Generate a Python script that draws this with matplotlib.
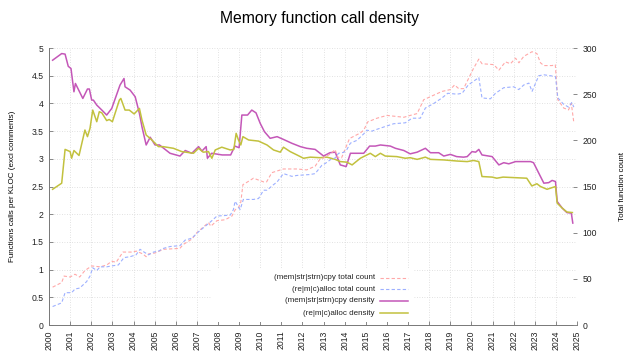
import matplotlib
matplotlib.use("Agg")
import matplotlib.pyplot as plt
from matplotlib.patches import Rectangle

plt.rcParams['font.family'] = ['Liberation Sans', 'DejaVu Sans']

# (mem|str|strn)cpy density (calls per KLOC)
mem_dens_x = [2000.17, 2000.6, 2000.76, 2000.91, 2001.04, 2001.18, 2001.25, 2001.6, 2001.82, 2001.91,
              2002.02, 2002.1, 2002.26, 2002.5, 2002.73, 2002.97, 2003.36, 2003.55, 2003.6, 2003.84,
              2004.08, 2004.28, 2004.4, 2004.6, 2004.79, 2005.02, 2005.23, 2005.73, 2006.2, 2006.45,
              2006.76, 2007.08, 2007.24, 2007.44, 2007.5, 2007.7, 2008.2, 2008.6, 2008.8, 2009.0,
              2009.13, 2009.4, 2009.6, 2009.8, 2010.0, 2010.2, 2010.47, 2010.8, 2011.1, 2011.5,
              2011.9, 2012.2, 2012.6, 2013.0, 2013.3, 2013.55, 2013.79, 2014.07, 2014.27, 2014.9,
              2015.18, 2015.45, 2015.69, 2016.16, 2016.4, 2016.8, 2017.1, 2017.43, 2017.82, 2018.06,
              2018.45, 2018.69, 2019.0, 2019.3, 2019.63, 2019.8, 2020.03, 2020.2, 2020.35, 2020.5,
              2020.98, 2021.3, 2021.53, 2021.77, 2022.09, 2022.8, 2022.94, 2023.27, 2023.43, 2023.66,
              2023.82, 2023.98, 2024.06, 2024.3, 2024.52, 2024.73, 2024.8]
mem_dens = [4.78, 4.90, 4.89, 4.67, 4.63, 4.21, 4.36, 4.09, 4.26, 4.26,
            4.06, 4.06, 3.97, 3.88, 3.79, 3.91, 4.33, 4.45, 4.30, 4.24,
            4.12, 3.82, 3.58, 3.25, 3.39, 3.25, 3.25, 3.10, 3.05, 3.15,
            3.10, 3.22, 3.14, 3.22, 3.01, 3.10, 3.07, 3.07, 3.23, 3.20,
            3.79, 3.79, 3.88, 3.83, 3.64, 3.49, 3.37, 3.40, 3.35, 3.28,
            3.22, 3.19, 3.17, 3.05, 3.11, 3.12, 2.89, 2.86, 3.10, 3.10,
            3.23, 3.23, 3.25, 3.23, 3.19, 3.15, 3.09, 3.12, 3.19, 3.11,
            3.11, 3.05, 3.08, 3.04, 3.03, 3.04, 3.13, 3.12, 3.17, 3.07,
            3.04, 2.89, 2.93, 2.91, 2.95, 2.95, 2.93, 2.68, 2.56, 2.57,
            2.61, 2.59, 2.23, 2.11, 2.03, 2.02, 1.84]

# (re|m|c)alloc density (calls per KLOC)
alloc_dens_x = [2000.17, 2000.6, 2000.76, 2001.0, 2001.07, 2001.18, 2001.42, 2001.7, 2001.82, 2001.94,
                2002.07, 2002.26, 2002.38, 2002.5, 2002.73, 2002.85, 2003.0, 2003.33, 2003.4, 2003.6,
                2003.8, 2004.03, 2004.28, 2004.4, 2004.6, 2004.87, 2005.18, 2005.4, 2005.89, 2006.29,
                2006.84, 2007.08, 2007.3, 2007.55, 2007.71, 2007.87, 2008.18, 2008.58, 2008.75, 2008.86,
                2008.97, 2009.08, 2009.18, 2009.45, 2009.92, 2010.32, 2010.63, 2010.95, 2011.1, 2011.42,
                2011.74, 2012.05, 2012.37, 2012.84, 2013.16, 2013.55, 2013.79, 2014.1, 2014.35, 2014.74,
                2015.21, 2015.45, 2015.69, 2015.92, 2016.47, 2016.87, 2017.1, 2017.43, 2017.82, 2018.06,
                2018.69, 2019.32, 2019.8, 2020.1, 2020.35, 2020.5, 2020.98, 2021.2, 2021.5, 2022.62,
                2022.86, 2023.1, 2023.27, 2023.58, 2023.98, 2024.06, 2024.3, 2024.52, 2024.78]
alloc_dens = [2.45, 2.56, 3.17, 3.13, 3.01, 3.15, 3.06, 3.52, 3.40, 3.55,
              3.88, 3.67, 3.85, 3.83, 3.69, 3.71, 3.67, 4.06, 4.09, 3.88,
              3.88, 3.81, 3.91, 3.70, 3.43, 3.34, 3.22, 3.22, 3.19, 3.13,
              3.10, 3.19, 3.12, 3.13, 3.01, 3.16, 3.21, 3.16, 3.17, 3.46,
              3.34, 3.25, 3.40, 3.34, 3.32, 3.25, 3.16, 3.12, 3.21, 3.13,
              3.07, 3.01, 3.03, 3.02, 3.03, 2.99, 2.95, 2.94, 2.89, 3.01,
              3.10, 3.04, 3.10, 3.05, 3.04, 3.01, 3.02, 2.99, 3.03, 2.99,
              2.98, 2.96, 2.95, 2.97, 2.95, 2.68, 2.67, 2.65, 2.67, 2.65,
              2.51, 2.55, 2.50, 2.45, 2.50, 2.20, 2.11, 2.04, 2.03]

# (mem|str|strn)cpy total count
mem_cnt_x = [2000.17, 2000.6, 2000.71, 2001.0, 2001.23, 2001.45, 2001.7, 2002.02, 2002.42, 2002.73,
             2002.97, 2003.18, 2003.5, 2003.9, 2004.14, 2004.44, 2004.6, 2004.71, 2005.02, 2005.42,
             2006.2, 2006.34, 2006.76, 2007.0, 2007.4, 2007.55, 2007.66, 2007.95, 2008.34, 2008.66,
             2008.82, 2008.97, 2009.08, 2009.18, 2009.33, 2009.68, 2010.16, 2010.3, 2010.55, 2011.1,
             2011.74, 2012.2, 2012.6, 2012.84, 2013.0, 2013.3, 2013.55, 2013.65, 2013.85, 2014.1,
             2014.23, 2014.74, 2014.9, 2015.09, 2015.53, 2016.0, 2016.4, 2016.8, 2017.1, 2017.43,
             2017.74, 2018.22, 2018.61, 2019.0, 2019.2, 2019.4, 2019.63, 2019.8, 2020.1, 2020.35,
             2020.5, 2021.06, 2021.3, 2021.61, 2021.85, 2022.09, 2022.25, 2022.48, 2022.87, 2023.1,
             2023.27, 2023.43, 2023.82, 2023.97, 2024.09, 2024.37, 2024.6, 2024.73, 2024.85]
mem_cnt = [41, 46, 53, 52, 55, 52, 59, 64, 63, 65,
           69, 68, 79, 79, 80, 77, 74, 77, 78, 82,
           83, 87, 93, 100, 108, 111, 107, 113, 114, 118,
           125, 127, 133, 152, 154, 159, 155, 155, 165, 169,
           169, 168, 172, 180, 181, 185, 190, 182, 181, 195,
           202, 208, 211, 220, 224, 227, 226, 225, 227, 229,
           244, 249, 253, 255, 260, 256, 256, 264, 278, 288,
           283, 282, 276, 285, 283, 289, 284, 291, 296, 294,
           284, 281, 281, 282, 244, 235, 233, 240, 219]

# (re|m|c)alloc total count
alloc_cnt_x = [2000.17, 2000.6, 2000.76, 2001.07, 2001.23, 2001.45, 2001.78, 2001.94, 2002.07, 2002.26,
               2002.42, 2002.73, 2002.97, 2003.28, 2003.55, 2003.84, 2004.12, 2004.31, 2004.5, 2004.71,
               2004.95, 2005.18, 2005.42, 2005.73, 2006.2, 2006.45, 2006.76, 2007.08, 2007.4, 2007.71,
               2007.95, 2008.58, 2008.73, 2008.81, 2008.97, 2009.05, 2009.2, 2009.68, 2009.92, 2010.16,
               2010.32, 2010.63, 2010.8, 2011.1, 2011.5, 2011.74, 2012.37, 2012.6, 2012.92, 2013.08,
               2013.32, 2013.55, 2013.71, 2013.95, 2014.1, 2014.27, 2014.58, 2014.9, 2015.05, 2015.29,
               2015.53, 2015.92, 2016.32, 2016.87, 2017.19, 2017.58, 2017.82, 2018.22, 2018.61, 2018.88,
               2019.32, 2019.56, 2019.85, 2020.1, 2020.35, 2020.5, 2020.9, 2021.14, 2021.53, 2022.0,
               2022.24, 2022.48, 2022.72, 2022.87, 2023.19, 2023.43, 2023.74, 2023.98, 2024.09, 2024.37,
               2024.6, 2024.75, 2024.85]
alloc_cnt = [20, 24, 35, 35, 39, 40, 47, 53, 62, 59,
             63, 63, 64, 65, 73, 74, 76, 82, 79, 76,
             79, 80, 83, 85, 86, 92, 94, 101, 107, 113,
             118, 119, 125, 134, 128, 125, 136, 136, 137, 146,
             146, 152, 155, 164, 161, 162, 163, 164, 173, 175,
             179, 181, 186, 187, 190, 197, 200, 207, 211, 210,
             212, 215, 218, 219, 224, 224, 235, 240, 246, 251,
             250, 251, 260, 264, 268, 246, 245, 251, 257, 258,
             255, 260, 262, 253, 270, 271, 270, 269, 246, 239,
             236, 241, 236]

years = list(range(2000, 2026))
labels = ['(mem|str|strn)cpy total count', '(re|m|c)alloc total count',
          '(mem|str|strn)cpy density', '(re|m|c)alloc density']
colors = ['#ffa8a8', '#9db0ff', '#c457b8', '#c2c13e']

fig = plt.figure(figsize=(6.4, 3.6), dpi=100)
ax = fig.add_axes([0.0766, 0.0972, 0.8250, 0.7694])
ax2 = ax.twinx()

ax.plot(mem_dens_x, mem_dens, color=colors[2], lw=1.1)
ax.plot(alloc_dens_x, alloc_dens, color=colors[3], lw=1.1)
ax2.plot(mem_cnt_x, mem_cnt, color=colors[0], lw=0.8, dashes=(3, 2))
ax2.plot(alloc_cnt_x, alloc_cnt, color=colors[1], lw=0.8, dashes=(3, 2))

ax.set_xlim(2000, 2025)
ax.set_ylim(0, 5)
ax2.set_ylim(0, 300)
ax.set_xticks(years)
ax.set_xticklabels([str(y) for y in years], rotation=90)
ax.set_yticks([0, 0.5, 1, 1.5, 2, 2.5, 3, 3.5, 4, 4.5, 5])
ax.set_yticklabels(['0', '0.5', '1', '1.5', '2', '2.5', '3', '3.5', '4', '4.5', '5'])
ax2.set_yticks(range(0, 301, 50))

ax.grid(True, color='#d8d8d8', linestyle=(0, (1, 2)), linewidth=0.6)
ax.set_axisbelow(True)

for s in ['top', 'right']:
    ax.spines[s].set_visible(False)
for s in ['left', 'bottom']:
    ax.spines[s].set_color('#777777')
    ax.spines[s].set_linewidth(0.7)
for s in ax2.spines.values():
    s.set_visible(False)

ax.tick_params(direction='in', length=3, width=0.7, color='#888888', labelsize=6.2,
               labelcolor='#222222')
ax.tick_params(axis='x', pad=4)
ax.tick_params(axis='y', pad=4)
ax2.tick_params(direction='in', length=3, width=0.7, color='#888888', labelsize=6.2,
                labelcolor='#222222', pad=4)

ax.set_ylabel('Functions calls per KLOC (excl comments)', fontsize=5.8, labelpad=11)
ax2.set_ylabel('Total function count', fontsize=5.8, labelpad=16)
fig.suptitle('Memory function call density', fontsize=11.3, y=0.97)

# legend (gnuplot style: label right-aligned, sample to the right)
ax2.add_patch(Rectangle((0.309, 0.012), 0.38, 0.19, transform=ax2.transAxes,
                        facecolor='white', edgecolor='none', zorder=5))
rows = [0.171, 0.130, 0.087, 0.042]
styles = [dict(dashes=(3, 2), lw=0.8), dict(dashes=(3, 2), lw=0.8), dict(lw=1.1), dict(lw=1.1)]
for lab, c, y, st in zip(labels, colors, rows, styles):
    ax2.text(0.617, y, lab, transform=ax2.transAxes, ha='right', va='center',
             fontsize=5.8, color='#222222', zorder=6)
    ax2.plot([0.627, 0.680], [y, y], transform=ax2.transAxes, color=c, zorder=6,
             clip_on=False, **st)

fig.savefig('out.png', dpi=100)
